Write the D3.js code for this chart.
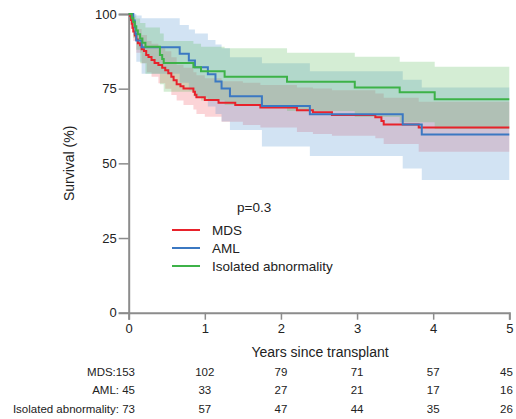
<!DOCTYPE html>
<html>
<head>
<meta charset="utf-8">
<script src="https://cdn.jsdelivr.net/npm/d3@7"></script>
<style>
  html, body { margin: 0; padding: 0; background: #fff; }
  svg text { font-family: "Liberation Sans", Arial, sans-serif; fill: #222; }
</style>
</head>
<body>
<svg id="chart" width="516" height="419"></svg>
<script>
// Kaplan-Meier step points [years, survival %]
const mdsCurve = [[0,100],[0.02,99.3],[0.03,98.0],[0.04,96.7],[0.05,95.4],[0.06,94.1],[0.08,92.8],[0.1,91.5],[0.12,90.2],
  [0.15,89.5],[0.17,88.2],[0.2,87.6],[0.23,86.3],[0.26,85.6],[0.3,84.6],[0.34,83.6],[0.39,82.9],[0.44,82.0],[0.48,81.2],
  [0.52,80.2],[0.56,79.0],[0.59,77.8],[0.63,76.5],[0.68,75.8],[0.72,75.1],[0.85,74.0],[0.87,73.0],[0.89,72.1],[1.0,71.2],
  [1.18,70.3],[1.40,69.5],[1.73,68.7],[2.21,67.8],[2.42,67.1],[2.67,66.2],[3.24,65.4],[3.32,64.2],[3.35,63.0],[3.81,62.0],[5,62.0]];
const amlCurve = [[0,100],[0.06,97.8],[0.08,95.6],[0.09,93.3],[0.1,91.1],[0.17,88.9],[0.67,86.7],[0.79,84.4],[0.87,82.2],
  [1.04,79.8],[1.14,77.4],[1.22,75.1],[1.33,72.5],[1.75,69.2],[2.38,66.4],[3.6,63.0],[3.85,59.7],[5,59.7]];
const isoCurve = [[0,100],[0.04,98.6],[0.06,97.3],[0.08,95.9],[0.1,94.5],[0.12,93.2],[0.15,91.8],[0.18,90.4],[0.22,89.0],
  [0.41,86.3],[0.44,84.9],[0.46,83.6],[0.85,82.2],[0.95,80.8],[1.26,79.0],[2.08,77.3],[2.97,75.4],[3.56,73.8],[4.02,71.5],[5,71.5]];

// confidence bands [years, lower, upper]
const mdsBand = [[0,100,100],[0.03,95,100],[0.06,91,97],[0.1,87,95],[0.17,83.5,93],[0.24,80.5,91],[0.3,79,90],[0.39,76.8,88.5],
  [0.48,75,87.5],[0.56,72.9,85.5],[0.63,71,83],[0.72,69.5,82],[0.85,68,80.5],[0.89,66.5,79.5],[1.0,65.6,78.5],[1.22,63.9,77.5],
  [1.5,62.8,77],[1.73,62,76.2],[2.21,60.5,75.4],[2.42,59.8,75.1],[2.67,59.2,74.5],[3.24,58.4,73.4],[3.35,56.5,72],[3.81,53.9,70.6],[5,53.9,70.6]];
const amlBand = [[0,100,100],[0.06,93,100],[0.1,84,99.5],[0.17,80,98.6],[0.67,77,96.3],[0.79,74.5,94.8],[0.87,72,93.5],
  [1.04,69,91.3],[1.14,66.5,89.8],[1.22,64,88.5],[1.33,61.2,85.5],[1.75,55.6,83.5],[2.38,52.5,80.8],[3.6,48.3,78],[3.85,44.4,75.4],[5,44.4,75.4]];
const isoBand = [[0,100,100],[0.04,96,100],[0.06,92,99.5],[0.1,88,98.5],[0.15,83.5,97],[0.22,80,95.5],[0.41,76.5,93.5],
  [0.46,74,91],[0.85,72.5,90],[0.95,71,89],[1.26,69.5,88.5],[2.08,67.5,87],[2.97,65.5,85.7],[3.56,63.8,84],[4.02,61.5,82.3],[5,61.5,82.3]];

const seriesNames = ["MDS", "AML", "Isolated abnormality"];
const seriesColors = ["#e8222b", "#3b78c2", "#3db248"];
const bandColors = ["rgba(240,90,100,0.26)", "rgba(80,145,210,0.26)", "rgba(90,185,90,0.26)"];

const xTicks = [0, 1, 2, 3, 4, 5];
const yTicks = [0, 25, 50, 75, 100];
const riskLabels = ["MDS:153", "AML: 45", "Isolated abnormality: 73"];
const riskMDS = [102, 79, 71, 57, 45];
const riskAML = [33, 27, 21, 17, 16];
const riskIso = [57, 47, 44, 35, 26];

const svg = d3.select("#chart");
const x = d3.scaleLinear().domain([0, 5]).range([128.7, 509.3]);
const y = d3.scaleLinear().domain([0, 100]).range([312.7, 14]);

const curves = [mdsCurve, amlCurve, isoCurve];
const bands = [mdsBand, amlBand, isoBand];

// Bands
const area = d3.area().curve(d3.curveStepAfter)
  .x(d => x(d[0])).y0(d => y(d[1])).y1(d => y(d[2]));
svg.append("g").selectAll("path")
  .data(bands)
  .join("path")
  .attr("d", area)
  .attr("fill", (d, i) => bandColors[i]);

// Axes
const axisColor = "#8c8c8c";
const yAxis = svg.append("g").attr("transform", `translate(${x(0)},0)`)
  .call(d3.axisLeft(y).tickValues(yTicks).tickSize(10).tickPadding(2).tickFormat(d3.format("d")));
const xAxis = svg.append("g").attr("transform", `translate(0,${y(0)})`)
  .call(d3.axisBottom(x).tickValues(xTicks).tickSize(7).tickPadding(4).tickFormat(d3.format("d")));
[yAxis, xAxis].forEach(g => {
  g.select(".domain").attr("stroke", axisColor).attr("stroke-width", 2);
  g.selectAll(".tick line").attr("stroke", axisColor).attr("stroke-width", 1.5);
  g.selectAll(".tick text").attr("font-size", "13px").attr("fill", "#222")
    .attr("font-family", "Liberation Sans, Arial, sans-serif");
});

// Survival curves
const line = d3.line().curve(d3.curveStepAfter).x(d => x(d[0])).y(d => y(d[1]));
svg.append("g").selectAll("path")
  .data(curves)
  .join("path")
  .attr("d", line)
  .attr("fill", "none")
  .attr("stroke", (d, i) => seriesColors[i])
  .attr("stroke-width", 2);

// Axis titles
svg.append("text")
  .attr("transform", `translate(74,${y(50)}) rotate(-90)`)
  .attr("text-anchor", "middle")
  .attr("font-size", "14px")
  .text("Survival (%)");
svg.append("text")
  .attr("x", 320).attr("y", 357)
  .attr("text-anchor", "middle")
  .attr("font-size", "14px")
  .text("Years since transplant");

// p value and legend
svg.append("text").attr("x", 237).attr("y", 212).attr("font-size", "13.5px").text("p=0.3");
const legend = svg.append("g");
seriesNames.forEach((name, i) => {
  const ly = 230 + i * 18;
  legend.append("line").attr("x1", 172).attr("x2", 200).attr("y1", ly).attr("y2", ly)
    .attr("stroke", seriesColors[i]).attr("stroke-width", 2);
  legend.append("text").attr("x", 212).attr("y", ly + 5).attr("font-size", "13.5px").text(name);
});

// Numbers at risk
const riskRows = [riskMDS, riskAML, riskIso];
riskRows.forEach((row, i) => {
  const ry = 376 + i * 18.3;
  svg.append("text").attr("x", 135).attr("y", ry).attr("text-anchor", "end")
    .attr("font-size", "11.5px").text(riskLabels[i]);
  svg.append("g").selectAll("text")
    .data(row)
    .join("text")
    .attr("x", (d, j) => Math.min(x(xTicks[j + 1]), 506.5))
    .attr("y", ry)
    .attr("text-anchor", "middle")
    .attr("font-size", "11.5px")
    .text(d => d);
});
</script>
</body>
</html>
